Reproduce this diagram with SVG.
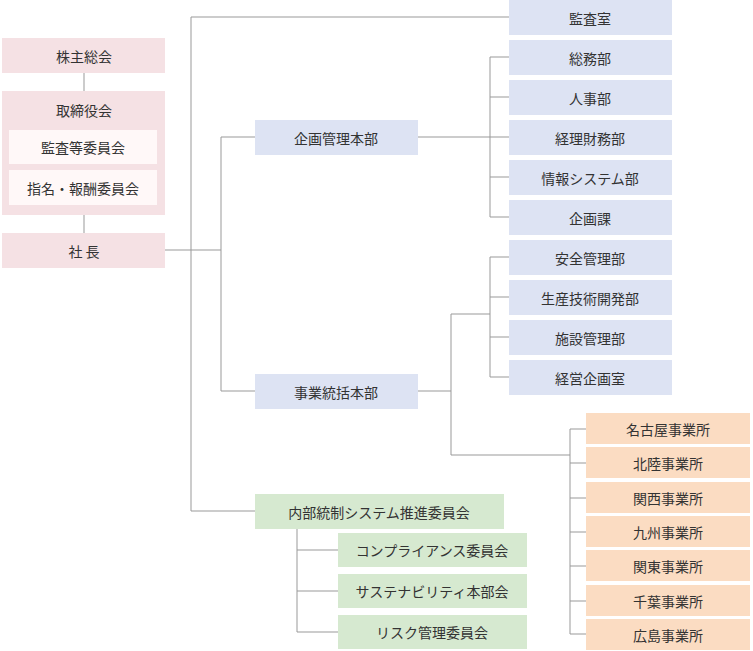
<svg xmlns="http://www.w3.org/2000/svg" width="753" height="651" viewBox="0 0 753 651">
<style>
text{font-family:"Noto Sans CJK JP","Noto Sans",sans-serif;font-size:14px;fill:#333;text-anchor:middle;dominant-baseline:central}
.p{fill:#f5e1e4}.w{fill:#fff8f8}.b{fill:#dde3f3}.g{fill:#d6e9d0}.o{fill:#fbdcc2}
#c path{fill:none;stroke:#999;stroke-width:1}
</style>
<rect width="753" height="651" fill="#fff"/>
<g id="c">
<path d="M84 73V91M84 215V233M165 250H221M221 137V391M221 137H255M221 391H255M191 17V511M191 17H509M191 511H255"/>
<path d="M418 137H490M490 57V217M490 57H509M490 97H509M490 137H509M490 177H509M490 217H509"/>
<path d="M418 391H451M451 314V455H570M451 314H490M490 257V377M490 257H509M490 297H509M490 337H509M490 377H509"/>
<path d="M570 429V634M570 429H586M570 463H586M570 498H586M570 532H586M570 566H586M570 601H586M570 634H586"/>
<path d="M297 529V632M297 550H338M297 591H338M297 632H338"/>
</g>
<g id="n1"><rect class="p" x="2" y="38" width="163" height="35"/><text x="84" y="56">株主総会</text></g>
<g id="n2"><rect class="p" x="2" y="91" width="163" height="124"/><text x="84" y="110">取締役会</text>
<rect class="w" x="9" y="130" width="148" height="34"/><text x="83" y="147">監査等委員会</text>
<rect class="w" x="9" y="170" width="148" height="35"/><text x="83" y="188">指名・報酬委員会</text></g>
<g id="n3"><rect class="p" x="2" y="233" width="163" height="35"/><text x="84" y="251">社 長</text></g>
<g id="n4"><rect class="b" x="255" y="120" width="163" height="35"/><text x="336" y="138">企画管理本部</text></g>
<g id="n5"><rect class="b" x="255" y="374" width="163" height="35"/><text x="336" y="392">事業統括本部</text></g>
<g id="n6"><rect class="g" x="255" y="494" width="249" height="35"/><text x="379" y="512">内部統制システム推進委員会</text></g>
<g id="g7"><rect class="g" x="338" y="533" width="189" height="34"/><text x="432" y="550">コンプライアンス委員会</text>
<rect class="g" x="338" y="574" width="189" height="34"/><text x="432" y="591">サステナビリティ本部会</text>
<rect class="g" x="338" y="615" width="189" height="34"/><text x="432" y="632">リスク管理委員会</text></g>
<g id="g8">
<rect class="b" x="509" y="0" width="163" height="35"/><text x="590" y="18">監査室</text>
<rect class="b" x="509" y="40" width="163" height="35"/><text x="590" y="58">総務部</text>
<rect class="b" x="509" y="80" width="163" height="35"/><text x="590" y="98">人事部</text>
<rect class="b" x="509" y="120" width="163" height="35"/><text x="590" y="138">経理財務部</text>
<rect class="b" x="509" y="160" width="163" height="35"/><text x="590" y="178">情報システム部</text>
<rect class="b" x="509" y="200" width="163" height="35"/><text x="590" y="218">企画課</text>
<rect class="b" x="509" y="240" width="163" height="35"/><text x="590" y="258">安全管理部</text>
<rect class="b" x="509" y="280" width="163" height="35"/><text x="590" y="298">生産技術開発部</text>
<rect class="b" x="509" y="320" width="163" height="35"/><text x="590" y="338">施設管理部</text>
<rect class="b" x="509" y="360" width="163" height="35"/><text x="590" y="378">経営企画室</text>
</g>
<g id="g9">
<rect class="o" x="586" y="413" width="164" height="31"/><text x="668" y="429">名古屋事業所</text>
<rect class="o" x="586" y="447" width="164" height="31"/><text x="668" y="463">北陸事業所</text>
<rect class="o" x="586" y="482" width="164" height="31"/><text x="668" y="498">関西事業所</text>
<rect class="o" x="586" y="516" width="164" height="31"/><text x="668" y="532">九州事業所</text>
<rect class="o" x="586" y="550" width="164" height="31"/><text x="668" y="566">関東事業所</text>
<rect class="o" x="586" y="585" width="164" height="31"/><text x="668" y="601">千葉事業所</text>
<rect class="o" x="586" y="619" width="164" height="31"/><text x="668" y="635">広島事業所</text>
</g>
</svg>
